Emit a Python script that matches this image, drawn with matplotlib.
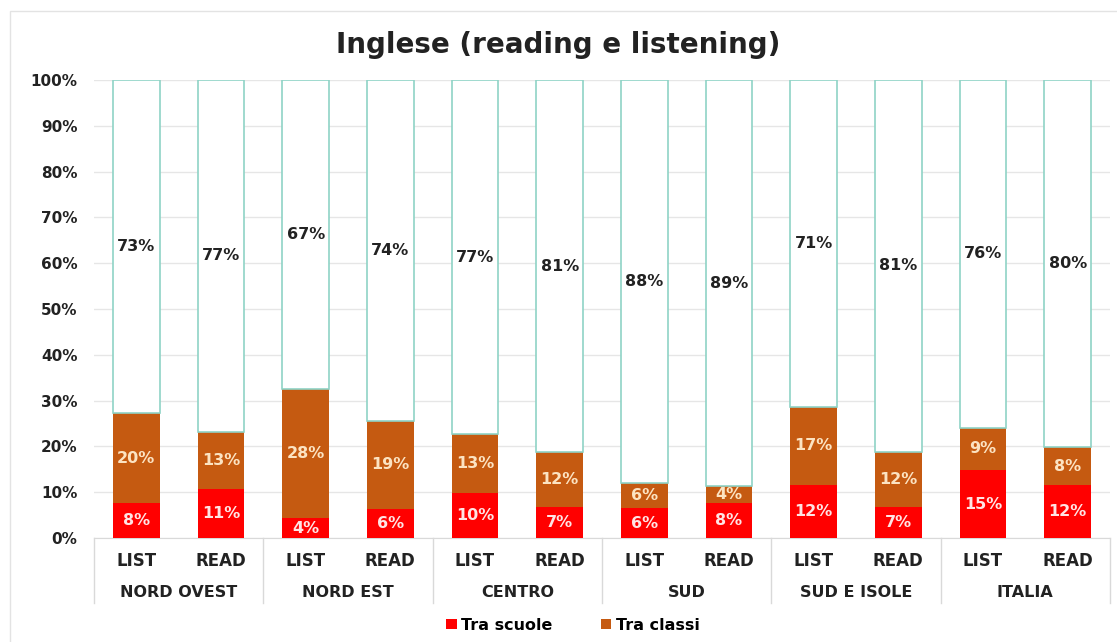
import numpy as np
import matplotlib
matplotlib.use("Agg")
from matplotlib import pyplot as plt
from matplotlib.patches import Rectangle

# data (percentages)
groups = ["NORD OVEST", "NORD EST", "CENTRO", "SUD", "SUD E ISOLE", "ITALIA"]
subs = ["LIST", "READ"]
tra_scuole = [7.6, 10.6, 4.3, 6.3, 9.8, 6.7, 6.5, 7.6, 11.5, 6.8, 14.8, 11.5]
tra_classi = [19.6, 12.6, 28.3, 19.3, 12.8, 12.0, 5.6, 3.7, 17.2, 12.0, 9.3, 8.3]
scuole_lbl = [8, 11, 4, 6, 10, 7, 6, 8, 12, 7, 15, 12]
classi_lbl = [20, 13, 28, 19, 13, 12, 6, 4, 17, 12, 9, 8]
resto_lbl = [73, 77, 67, 74, 77, 81, 88, 89, 71, 81, 76, 80]

red = "#FF0000"
orange = "#C55A11"
teal = "#8FD3C6"

plt.rcParams["font.family"] = "DejaVu Sans"
plt.rcParams["font.weight"] = "bold"

fig = plt.figure(figsize=(11.17, 6.42), dpi=100)
ax = fig.add_axes([94 / 1117, 1 - 538 / 642, 1016 / 1117, 458 / 642])

x = np.arange(len(tra_scuole))
s = np.array(tra_scuole)
c = np.array(tra_classi)
rest = 100 - s - c
w = 0.55

b1 = ax.bar(x, s, w, color=red, label="Tra scuole", zorder=3)
b2 = ax.bar(x, c, w, bottom=s, color=orange, label="Tra classi", zorder=3)
ax.bar(x, rest, w, bottom=s + c, color="white", edgecolor=teal, linewidth=1.2, zorder=3)

for i in x:
    ax.text(i, s[i] / 2, "%d%%" % scuole_lbl[i], ha="center", va="center",
            color="#FFE4E4", fontsize=11.5, fontweight="bold", zorder=4)
    ax.text(i, s[i] + c[i] / 2, "%d%%" % classi_lbl[i], ha="center", va="center",
            color="#FCE3C2", fontsize=11.5, fontweight="bold", zorder=4)
    ax.text(i, s[i] + c[i] + rest[i] / 2, "%d%%" % resto_lbl[i], ha="center", va="center",
            color="#222222", fontsize=11.5, fontweight="bold", zorder=4)

ax.set_ylim(0, 100)
ax.set_xlim(-0.5, len(x) - 0.5)
ax.set_yticks(np.arange(0, 101, 10))
ax.set_yticklabels(["%d%%" % v for v in range(0, 101, 10)], fontsize=11, fontweight="bold", color="#222222")
ax.set_xticks(x)
ax.set_xticklabels(subs * len(groups), fontsize=12, fontweight="bold", color="#222222")
ax.tick_params(axis="x", length=0, pad=10)
ax.tick_params(axis="y", length=0, pad=12)
ax.yaxis.grid(True, color="#E6E6E6", linewidth=1, zorder=0)
ax.set_axisbelow(True)
for sp in ["top", "right", "left"]:
    ax.spines[sp].set_visible(False)
ax.spines["bottom"].set_color("#D9D9D9")

trans = ax.get_xaxis_transform()
for k in range(len(groups) + 1):
    ax.plot([2 * k - 0.5, 2 * k - 0.5], [0, -0.142], transform=trans,
            color="#D9D9D9", linewidth=1, clip_on=False)
for k, g in enumerate(groups):
    ax.text(2 * k + 0.5, -0.118, g, transform=trans, ha="center", va="center",
            fontsize=11.5, fontweight="bold", color="#222222")

fig.text(0.5, 1 - 45 / 642, "Inglese (reading e listening)", ha="center", va="center",
         fontsize=20, fontweight="bold", color="#222222")

fig.legend(handles=[b1, b2], loc="center", bbox_to_anchor=(0.513, 1 - 625 / 642), ncol=2,
           frameon=False, handlelength=0.65, handleheight=0.65, handletextpad=0.3,
           columnspacing=3.0, prop={"size": 11.5, "weight": "bold"})

fig.patches.append(Rectangle((10 / 1117, -0.1), 1.2, 1 - 11 / 642 + 0.1, transform=fig.transFigure,
                             fill=False, edgecolor="#E3E3E3", linewidth=1))

fig.savefig("out.png", dpi=100)
